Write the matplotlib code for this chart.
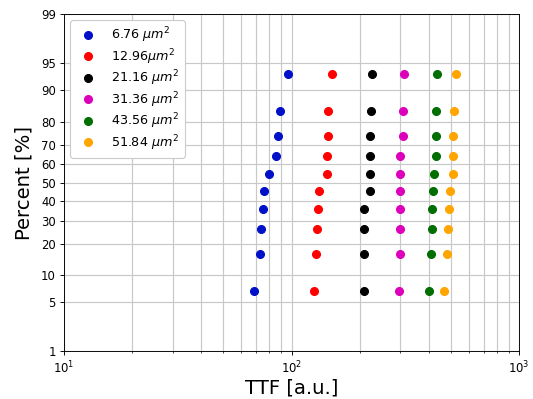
import numpy as np
import matplotlib
matplotlib.use("Agg")
import matplotlib.pyplot as plt
from statistics import NormalDist

# cumulative failure percent (median ranks, n=10)
percent = [6.7, 16.3, 26.0, 35.6, 45.2, 54.8, 64.4, 74.0, 83.7, 93.3]

ttf_676 = [68.6, 72.9, 73.4, 74.9, 75.5, 79.6, 85.7, 87.5, 89.3, 96.2]
ttf_1296 = [125.6, 128.5, 129.4, 130.3, 131.7, 142.8, 143.2, 145.1, 145.1, 151.1]
ttf_2116 = [207.7, 207.7, 209.0, 208.4, 221.4, 221.4, 221.4, 222.0, 223.0, 225.3]
ttf_3136 = [296.9, 299.0, 299.9, 300.8, 300.8, 300.8, 299.9, 309.0, 309.0, 311.3]
ttf_4356 = [402.3, 411.7, 414.7, 415.9, 417.6, 421.7, 431.5, 433.0, 433.0, 434.5]
ttf_5184 = [466.7, 483.9, 488.8, 490.8, 498.9, 511.2, 512.8, 514.3, 519.5, 527.0]

labels = [r"6.76 $\mu m^2$", r"12.96$\mu m^2$", r"21.16 $\mu m^2$",
          r"31.36 $\mu m^2$", r"43.56 $\mu m^2$", r"51.84 $\mu m^2$"]
colors = ["#0010c8", "#ff0000", "#000000", "#dd00bb", "#006e00", "#ffa500"]

ytick_vals = [1, 5, 10, 20, 30, 40, 50, 60, 70, 80, 90, 95, 99]

_nd = NormalDist()
_ppf = np.vectorize(lambda v: _nd.inv_cdf(v / 100.0), otypes=[float])
_cdf = np.vectorize(lambda v: _nd.cdf(v) * 100.0, otypes=[float])


def _fwd(p):
    p = np.clip(np.asarray(p, float), 1e-6, 100 - 1e-6)
    return _ppf(p)


def _inv(z):
    return _cdf(np.asarray(z, float))


DPI = 533 / 6.4
fig = plt.figure(figsize=(6.4, 399 / DPI), dpi=DPI)
ax = fig.add_axes([0.12, 0.12, 0.854, 0.845])

series = [ttf_676, ttf_1296, ttf_2116, ttf_3136, ttf_4356, ttf_5184]
for x, lab, c in zip(series, labels, colors):
    ax.plot(x, percent, "o", color=c, ms=6.8, label=lab)

ax.set_xscale("log")
ax.set_yscale("function", functions=(_fwd, _inv))
ax.set_xlim(10, 1000)
ax.set_ylim(1, 99)
ax.set_yticks(ytick_vals)
ax.set_yticklabels([str(v) for v in ytick_vals])
ax.yaxis.set_minor_locator(matplotlib.ticker.NullLocator())
ax.grid(True, which="both", color="#c8c8c8", lw=1)
ax.set_axisbelow(True)
ax.tick_params(labelsize=10)

ax.set_xlabel("TTF [a.u.]", fontsize=17, labelpad=2)
ax.set_ylabel("Percent [%]", fontsize=17, labelpad=6)
ax.legend(loc="upper left", fontsize=11, labelspacing=0.15, framealpha=1)

fig.savefig("out.png", dpi=DPI)
